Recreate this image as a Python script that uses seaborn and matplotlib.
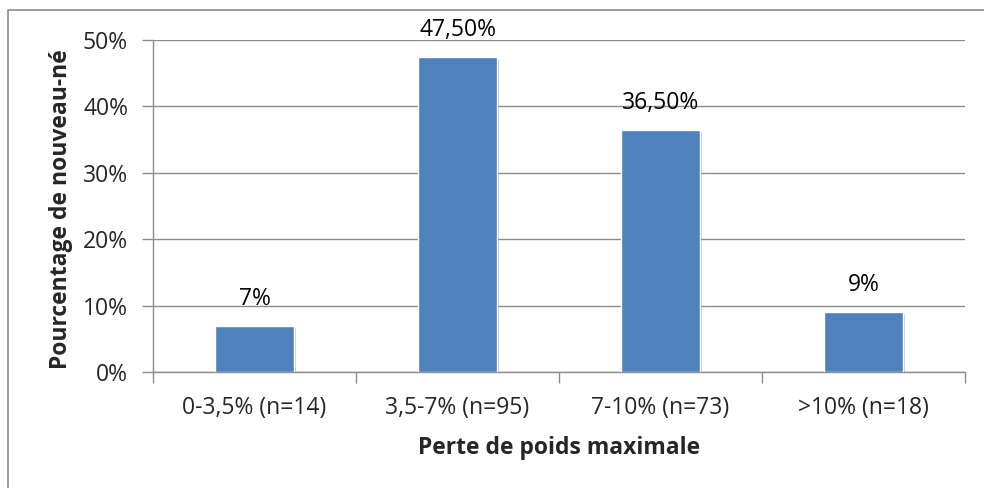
import matplotlib
matplotlib.use("Agg")
import matplotlib.pyplot as plt
import matplotlib.patheffects as pe
from matplotlib.patches import Rectangle
import seaborn as sns
import pandas as pd

# Data
categories = ["0-3,5% (n=14)", "3,5-7% (n=95)", "7-10% (n=73)", ">10% (n=18)"]
values = [7.0, 47.5, 36.5, 9.0]
value_labels = ["7%", "47,50%", "36,50%", "9%"]
y_ticks = [0, 10, 20, 30, 40, 50]

df = pd.DataFrame({"cat": categories, "val": values})

sns.set_style("white")
plt.rcParams["font.family"] = ["Open Sans", "DejaVu Sans"]

fig = plt.figure(figsize=(9.84, 4.88), dpi=100)
ax = fig.add_axes([153 / 984, 1 - 372 / 488, (965 - 153) / 984, (372 - 40) / 488])

sns.barplot(data=df, x="cat", y="val", color="#4F81BD", width=0.385,
            saturation=1, ax=ax, zorder=3)

for bar in ax.patches:
    bar.set_path_effects([pe.SimplePatchShadow(offset=(1.5, -1.5), alpha=0.25), pe.Normal()])

fs = 16.5

# value labels above bars
for i, (v, lab) in enumerate(zip(values, value_labels)):
    ax.annotate(lab, (i, v), xytext=(0, 15), textcoords="offset points",
                ha="center", va="baseline", fontsize=fs, color="black", zorder=4)

ax.set_ylim(0, 50)
ax.set_xlim(-0.5, 3.5)
ax.set_yticks(y_ticks)
ax.set_yticklabels([f"{t}%" for t in y_ticks], fontsize=fs)
ax.yaxis.grid(True, color="#8c8c8c", linewidth=1)
ax.set_axisbelow(True)

# category ticks between bars
ax.set_xticks([-0.5, 0.5, 1.5, 2.5, 3.5], minor=True)
ax.tick_params(axis="x", which="major", length=0, labelsize=fs, pad=17)
ax.tick_params(axis="x", which="minor", length=8, width=1, color="#8c8c8c", direction="out", bottom=True)
ax.tick_params(axis="y", length=8, width=1, color="#8c8c8c", direction="out", left=True, pad=10)

for side in ["top", "right"]:
    ax.spines[side].set_visible(False)
for side in ["left", "bottom"]:
    ax.spines[side].set_color("#8c8c8c")
    ax.spines[side].set_linewidth(1)

ax.set_xlabel("Perte de poids maximale", fontsize=fs, fontweight="bold", labelpad=12)
ax.set_ylabel("Pourcentage de nouveau-né", fontsize=fs, fontweight="bold")
ax.yaxis.set_label_coords(-0.0985, 0.491)

# outer chart frame (clipped at right and bottom in the reference)
fig.patches.append(Rectangle((8 / 984, -0.1), 1.2, (488 - 10) / 488 + 0.1,
                             transform=fig.transFigure, fill=False,
                             edgecolor="#8c8c8c", linewidth=1.2))

fig.savefig("out.png", dpi=100, facecolor="white")
